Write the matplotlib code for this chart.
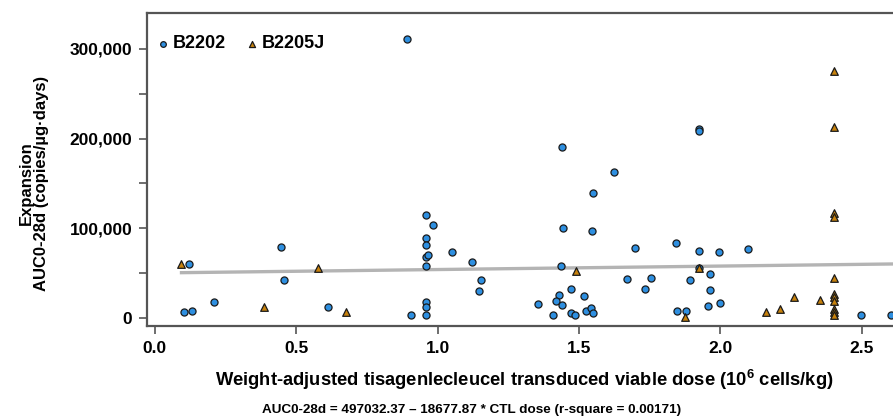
import numpy as np
import matplotlib
matplotlib.use("Agg")
import matplotlib.pyplot as plt
from matplotlib import font_manager
from matplotlib.ticker import FuncFormatter, MultipleLocator

plt.rcParams['font.family'] = ['Liberation Sans', 'DejaVu Sans']
plt.rcParams['font.weight'] = 'bold'
plt.rcParams['mathtext.fontset'] = 'custom'

installed = {f.name for f in font_manager.fontManager.ttflist}
narrow_ok = 'Liberation Sans Narrow' in installed
label_family = ['Liberation Sans Narrow', 'Liberation Sans'] if narrow_ok else ['Liberation Sans']
plt.rcParams['mathtext.rm'] = ('Liberation Sans Narrow:bold' if narrow_ok
                               else 'Liberation Sans:bold')

# Study B2202 (circles)
b2202_dose = [0.119, 0.447, 0.457, 0.104, 0.132, 0.208, 0.612, 0.906, 0.892,
              0.959, 0.959, 0.959, 0.959, 0.959, 0.959, 0.959, 0.959, 0.966,
              0.982, 1.051, 1.123, 1.153, 1.145,
              1.441, 1.623, 1.548, 1.442, 1.544, 1.696, 1.435,
              1.669, 1.753, 1.733, 1.470, 1.519, 1.430, 1.419, 1.439, 1.355,
              1.408, 1.471, 1.484, 1.524, 1.543, 1.550,
              1.842, 1.923, 1.995, 2.099, 1.923, 1.963, 1.892, 1.963, 1.955,
              1.999, 1.846, 1.879, 1.923, 1.923, 2.496, 2.603]
b2202_auc = [60500, 79500, 42400, 7000, 8200, 17500, 12600, 3000, 311000,
             115200, 89500, 81000, 67700, 58000, 17500, 11900, 3000, 70200,
             103400, 73900, 62800, 42000, 29800,
             190300, 163100, 139400, 100400, 97300, 78400, 58000,
             43100, 44600, 32700, 32700, 24900, 25300, 19300, 14200, 15300,
             3000, 5900, 3300, 7800, 10800, 5200,
             83600, 74700, 73900, 77300, 55400, 48700, 42000, 31600, 13700,
             17100, 7500, 7500, 211000, 208000, 3300, 3300]

# Study B2205J (triangles)
b2205j_dose = [0.093, 0.575, 0.384, 0.675, 1.488, 1.923, 1.874, 2.161, 2.210,
               2.259, 2.351,
               2.403, 2.403, 2.403, 2.403, 2.403, 2.403, 2.403, 2.403, 2.403,
               2.403, 2.403]
b2205j_auc = [60200, 55400, 12600, 6700, 52400, 55400, 1500, 6400, 10000,
              23800, 19700,
              275400, 212600, 116700, 113000, 44600, 26800, 23800, 19000,
              10000, 6400, 3300]

# fitted line as drawn
fit_intercept = 50100
fit_slope = 3860
fit_x = [0.094, 2.7]

fig = plt.figure(figsize=(8.93, 4.2), dpi=100)
ax = fig.add_axes([147/893, 94/420, 746/893, 313/420])

xx = np.array(fit_x)
ax.plot(xx, fit_intercept + fit_slope * xx, color='#b4b4b4', lw=2.4, zorder=1)

ax.scatter(b2202_dose, b2202_auc, s=26, marker='o', facecolor='#2e8fe0',
           edgecolor='#1a1a1a', linewidth=0.9, zorder=2, label='B2202')
ax.scatter(b2205j_dose, b2205j_auc, s=30, marker='^', facecolor='#c8820c',
           edgecolor='#1a1a1a', linewidth=0.9, zorder=3, label='B2205J')

ax.set_xlim(-0.028, 2.61)
ax.set_ylim(-9000, 340000)

ax.yaxis.set_major_locator(MultipleLocator(100000))
ax.yaxis.set_minor_locator(MultipleLocator(50000))
ax.yaxis.set_major_formatter(FuncFormatter(lambda v, p: f"{int(v):,}"))
ax.xaxis.set_major_locator(MultipleLocator(0.5))
ax.xaxis.set_major_formatter(FuncFormatter(lambda v, p: f"{v:.1f}"))

spine_col = '#555555'
for side in ['left', 'bottom', 'top']:
    ax.spines[side].set_color(spine_col)
    ax.spines[side].set_linewidth(1.6)
ax.spines['right'].set_visible(False)
ax.tick_params(which='both', direction='out', length=5.5, width=1.2,
               color=spine_col, labelsize=12.5, pad=5)

fs_x = 16.0 if narrow_ok else 13.2
fs_y = 14.5 if narrow_ok else 12
fs_foot = 11.8 if narrow_ok else 9.7

fig.text(524/893, 1 - 380/420, 'Weight-adjusted tisagenlecleucel transduced viable dose (10$^{6}$ cells/kg)',
         ha='center', va='center', fontsize=fs_x, fontweight='bold', family=label_family)
fig.text(34/893, 1 - 183/420, 'Expansion\nAUC0-28d (copies/µg·days)', rotation=90,
         ha='center', va='center', multialignment='center', fontsize=fs_y,
         fontweight='bold', linespacing=0.95, family=label_family)
fig.text(472/893, 1 - 410/420, 'AUC0-28d = 497032.37 – 18677.87 * CTL dose (r-square = 0.00171)',
         ha='center', va='center', fontsize=fs_foot, fontweight='bold', family=label_family)

ax.legend(loc='upper left', ncol=2, frameon=False, fontsize=13,
          handletextpad=0.05, columnspacing=0.9, handlelength=1.0,
          markerscale=0.8, borderaxespad=0.0, bbox_to_anchor=(0.0, 0.952))

fig.savefig('out.png', dpi=100)
